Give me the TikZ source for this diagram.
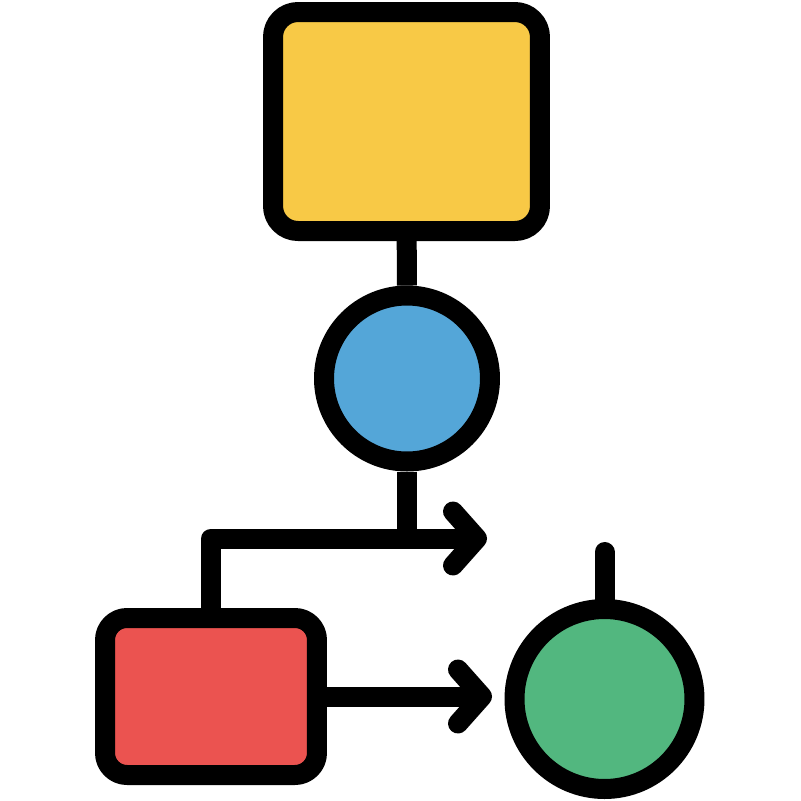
\documentclass[tikz,border=0pt]{standalone}
\usepackage{tikz}
\usetikzlibrary{arrows.meta}

\definecolor{boxyellow}{RGB}{248,201,70}
\definecolor{circleblue}{RGB}{84,166,216}
\definecolor{boxred}{RGB}{235,83,80}
\definecolor{circlegreen}{RGB}{82,183,127}

\begin{document}
\begin{tikzpicture}[x = 0.1mm, y = -0.1mm, line width = 2mm, line join = round,
    chevron/.style = {-{Straight Barb[length = 2.4mm, width = 5.4mm, line cap = round, line join = round]}}]
\useasboundingbox (0,0) rectangle (801,801);
\draw
    (406.5,121.5) node[draw, fill = boxyellow, rounded corners = 2.5mm, minimum width = 26.7mm, minimum height = 21.9mm](a1){}
    (407,378.5) node[draw, circle, fill = circleblue, minimum size = 16.6mm](a2){}
    (211,696.5) node[draw, fill = boxred, rounded corners = 2.2mm, minimum width = 21.2mm, minimum height = 15.7mm](a3){}
    (604.5,699) node[draw, circle, fill = circlegreen, minimum size = 18mm](a4){};

    \coordinate (t1) at (487,538.5);
    \coordinate (t2) at (492,696.5);
    \coordinate (t3) at (604.5,552);

    \draw (a1) -- (a2);
    \draw (a2.south) -- (a2.south |- t1);
    \draw[chevron] (a3.north) |- (t1);
    \draw[chevron] (a3.east) -- (t2);
    \draw[line cap = round] (a4.north) -- (t3);

\end{tikzpicture}
\end{document}
